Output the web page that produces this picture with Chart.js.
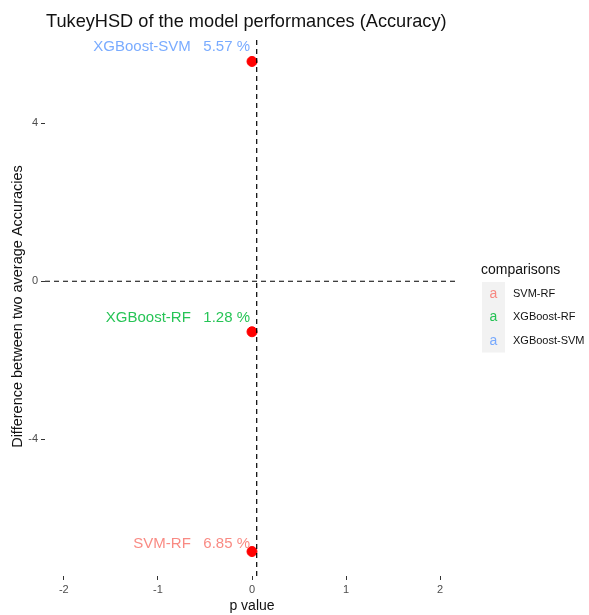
<!DOCTYPE html>
<html>
<head>
<meta charset="utf-8">
<script src="https://cdn.jsdelivr.net/npm/chart.js@4/dist/chart.umd.min.js"></script>
<style>
  html, body { margin: 0; padding: 0; background: #fff; }
  #wrap { width: 589px; height: 615px; }
</style>
</head>
<body>
<div id="wrap"><canvas id="chart" width="589" height="615"></canvas></div>
<script>
// data
const comparisons = ["SVM-RF", "XGBoost-RF", "XGBoost-SVM"];
const diffs = [-6.85, -1.28, 5.57];
const pValues = [0, 0, 0];
const pctLabels = ["6.85 %", "1.28 %", "5.57 %"];
const compColors = ["#F8766D", "#00BA38", "#619CFF"];
const xTicks = [-2, -1, 0, 1, 2];
const yTicks = [-4, 0, 4];
const alphaLevel = 0.05;

const xMin = -2.2, xMax = 2.2;
const yMin = -7.47, yMax = 6.19;
const FONT = "'Liberation Sans', Arial, sans-serif";

// text next to each point + title + legend
const overlay = {
  id: "overlay",
  afterDatasetsDraw(chart) {
    const ctx = chart.ctx;
    const meta = chart.getDatasetMeta(2);
    const nudge = [8, 14, 15];
    ctx.save();
    ctx.font = "15px " + FONT;
    ctx.textAlign = "right";
    ctx.textBaseline = "middle";
    meta.data.forEach((pt, i) => {
      ctx.fillStyle = compColors[i];
      ctx.globalAlpha = 0.85;
      ctx.fillText(comparisons[i] + "   " + pctLabels[i], pt.x - 2, pt.y - nudge[i]);
    });
    ctx.restore();
  },
  afterDraw(chart) {
    const ctx = chart.ctx;
    ctx.save();
    // title
    ctx.fillStyle = "#111";
    ctx.font = "18.2px " + FONT;
    ctx.textAlign = "left";
    ctx.textBaseline = "alphabetic";
    ctx.fillText("TukeyHSD of the model performances (Accuracy)", 46, 27);

    // legend
    const lx = 482, ly = 282, kw = 23, kh = 23.5;
    ctx.font = "14px " + FONT;
    ctx.fillStyle = "#111";
    ctx.fillText("comparisons", 481, 274);
    ctx.fillStyle = "#F2F2F2";
    ctx.fillRect(lx, ly, kw, kh * comparisons.length);
    comparisons.forEach((c, i) => {
      const cy = ly + kh * i + kh / 2;
      ctx.textAlign = "center";
      ctx.textBaseline = "middle";
      ctx.font = "14px " + FONT;
      ctx.fillStyle = compColors[i];
      ctx.globalAlpha = 0.85;
      ctx.fillText("a", lx + kw / 2, cy);
      ctx.globalAlpha = 1;
      ctx.textAlign = "left";
      ctx.font = "11px " + FONT;
      ctx.fillStyle = "#111";
      ctx.fillText(c, 513, cy);
    });
    ctx.restore();
  }
};

const chart = new Chart(document.getElementById("chart"), {
  type: "scatter",
  data: {
    datasets: [
      {
        // horizontal reference at 0
        type: "line",
        data: [{ x: xMin, y: 0 }, { x: xMax, y: 0 }],
        borderColor: "#000",
        borderWidth: 1.2,
        borderDash: [5, 4],
        pointRadius: 0,
        showLine: true,
        fill: false
      },
      {
        // vertical line at the significance level
        type: "line",
        data: [{ x: alphaLevel, y: yMin }, { x: alphaLevel, y: yMax }],
        borderColor: "#000",
        borderWidth: 1.2,
        borderDash: [5, 4],
        pointRadius: 0,
        showLine: true,
        fill: false
      },
      {
        data: pValues.map((p, i) => ({ x: p, y: diffs[i] })),
        backgroundColor: "#FF0000",
        borderColor: "#FF0000",
        pointRadius: 5,
        pointHoverRadius: 5
      }
    ]
  },
  options: {
    responsive: false,
    animation: false,
    layout: { padding: { top: 37, right: 130, left: 0, bottom: 0 } },
    plugins: {
      legend: { display: false },
      tooltip: { enabled: false },
      title: { display: false }
    },
    scales: {
      x: {
        type: "linear",
        min: xMin,
        max: xMax,
        afterBuildTicks: (s) => { s.ticks = xTicks.map(v => ({ value: v })); },
        afterFit: (s) => { s.height = 39; },
        grid: { drawOnChartArea: false, drawTicks: true, tickLength: 4, color: "#333" },
        border: { display: false },
        ticks: { color: "#4D4D4D", font: { family: FONT, size: 11 }, padding: 3, maxRotation: 0 },
        title: { display: true, text: "p value", color: "#111", font: { family: FONT, size: 14 }, padding: { top: 1, bottom: 0 } }
      },
      y: {
        type: "linear",
        min: yMin,
        max: yMax,
        afterBuildTicks: (s) => { s.ticks = yTicks.map(v => ({ value: v })); },
        afterFit: (s) => { s.width = 45; },
        grid: { drawOnChartArea: false, drawTicks: true, tickLength: 4, color: "#333" },
        border: { display: false },
        ticks: { color: "#4D4D4D", font: { family: FONT, size: 11 }, padding: 3 },
        title: { display: true, text: "Difference between two average Accuracies", color: "#111", font: { family: FONT, size: 14.5 }, padding: { top: 9, bottom: 0 } }
      }
    }
  },
  plugins: [overlay]
});
</script>
</body>
</html>
